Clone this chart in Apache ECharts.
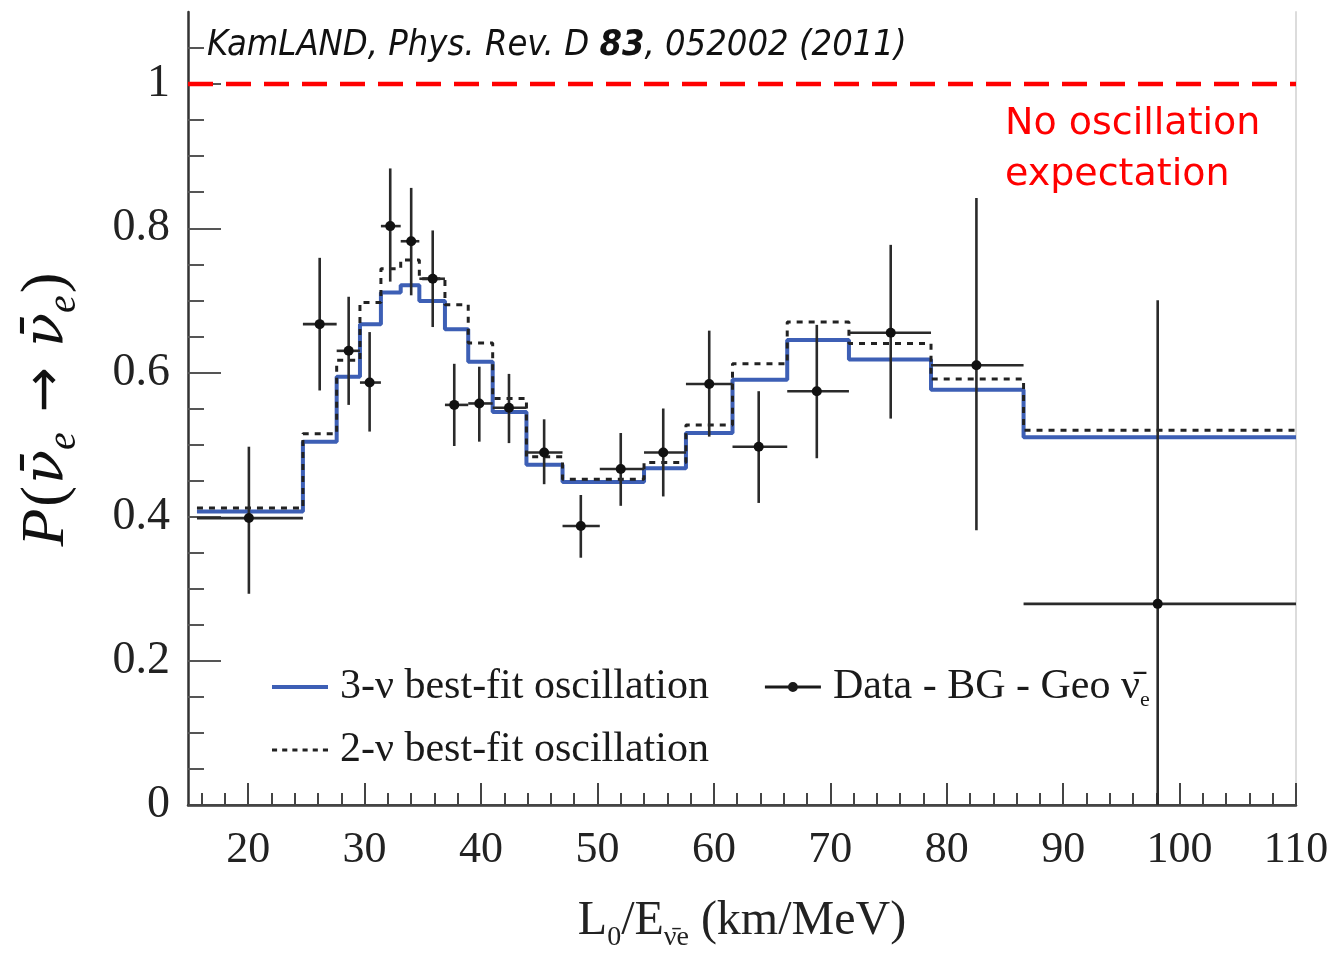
<!DOCTYPE html>
<html>
<head>
<meta charset="utf-8">
<script src="https://cdn.jsdelivr.net/npm/echarts@6/dist/echarts.min.js"></script>
<style>
  html, body { margin: 0; padding: 0; background: #fff; }
  #chart { width: 1338px; height: 957px; }
</style>
</head>
<body>
<div id="chart"></div>
<script>
// Bin edges in L0/E (km/MeV)
const binEdges = [15.6, 24.7, 27.6, 29.6, 31.4, 33.1, 34.7, 36.9, 38.9, 41.0, 43.9,
                  47.0, 50.2, 54.0, 57.6, 61.6, 66.3, 71.6, 78.65, 86.6, 110];

// Survival probability per bin: 3-flavour and 2-flavour best fits
const fit3nu = [0.407, 0.504, 0.594, 0.667, 0.711, 0.721, 0.699, 0.660, 0.615, 0.545,
                0.472, 0.448, 0.448, 0.467, 0.516, 0.590, 0.645, 0.618, 0.576, 0.510];
const fit2nu = [0.412, 0.515, 0.617, 0.697, 0.744, 0.756, 0.730, 0.694, 0.641, 0.564,
                0.483, 0.452, 0.452, 0.475, 0.527, 0.612, 0.670, 0.640, 0.591, 0.520];

// Data - BG - Geo antineutrinos: centre, ratio, lower and upper error ends
const dataX    = [20.06, 26.14, 28.63, 30.43, 32.2, 34.0, 35.85, 37.7, 39.85, 42.4,
                  45.42, 48.57, 52.0, 55.65, 59.6, 63.85, 68.84, 75.19, 82.55, 98.12];
const dataY    = [0.398, 0.667, 0.630, 0.586, 0.803, 0.782, 0.730, 0.555, 0.557, 0.551,
                  0.489, 0.387, 0.466, 0.489, 0.584, 0.497, 0.574, 0.655, 0.610, 0.279];
const dataLow  = [0.293, 0.575, 0.555, 0.518, 0.726, 0.707, 0.663, 0.498, 0.504, 0.502,
                  0.445, 0.343, 0.415, 0.428, 0.511, 0.419, 0.481, 0.536, 0.381, -0.15];
const dataHigh = [0.497, 0.759, 0.705, 0.656, 0.883, 0.856, 0.797, 0.612, 0.608, 0.598,
                  0.535, 0.430, 0.516, 0.550, 0.658, 0.574, 0.666, 0.777, 0.842, 0.700];

// No-oscillation expectation
const noOscillation = 1;

// Axis ticks and labels
const xTickLabels = [20, 30, 40, 50, 60, 70, 80, 90, 100, 110];
const yTickLabels = [0, 0.2, 0.4, 0.6, 0.8, 1];
const X_MIN = 14.83, X_MAX = 110, Y_MIN = 0, Y_MAX = 1.1;

const xMinorTicks = [];
for (let v = 16; v <= 110; v += 2) xMinorTicks.push(v);
const yMinorTicks = [];
for (let k = 1; k <= 21; k++) yMinorTicks.push(+(k * 0.05).toFixed(2));

const NAME_3NU = '3-ν best-fit oscillation';
const NAME_2NU = '2-ν best-fit oscillation';
const NAME_DATA = 'Data - BG - Geo ν̄e';

function stepPoints(vals) {
  const pts = vals.map((v, i) => [binEdges[i], v]);
  pts.push([binEdges[binEdges.length - 1], vals[vals.length - 1]]);
  return pts;
}

const errData = dataX.map((x, i) => [x, dataY[i], binEdges[i], binEdges[i + 1], dataLow[i], dataHigh[i]]);

const SERIF = '"Liberation Serif", "Times New Roman", "DejaVu Serif", serif';
const INK = '#222';
const BLUE = '#3d5fb5';

// Legend glyphs: solid bar, short dashes, bar with a dot in the middle
const ICON_SOLID = 'path://M0,0 L56,0 L56,4 L0,4 Z';
const ICON_DOTTED = 'path://M0,0 h5 v3 h-5 Z M10,0 h5 v3 h-5 Z M20,0 h5 v3 h-5 Z M30,0 h5 v3 h-5 Z M40,0 h5 v3 h-5 Z M50,0 h5 v3 h-5 Z';
const ICON_DATA = 'path://M0,3.6 L23.2,3.6 L23.2,6.4 L0,6.4 Z M32.8,3.6 L56,3.6 L56,6.4 L32.8,6.4 Z M23,5 A5,5 0 1,1 33,5 A5,5 0 1,1 23,5 Z';

const legendText = {
  fontFamily: SERIF, fontSize: 42, color: '#1a1a1a', padding: [0, 0, 0, 7],
  rich: {
    t: { fontFamily: SERIF, fontSize: 42, color: '#1a1a1a', lineHeight: 48 },
    s: { fontFamily: SERIF, fontSize: 22, color: '#1a1a1a', lineHeight: 22, verticalAlign: 'bottom' }
  }
};
const legendFormatter = name => name === NAME_DATA
  ? '{t|Data - BG - Geo ν̄}{s|e}'
  : '{t|' + name + '}';

const chart = echarts.init(document.getElementById('chart'), null, { renderer: 'canvas' });

chart.setOption({
  animation: false,
  backgroundColor: '#fff',
  grid: { left: 188, right: 42, top: 12, bottom: 152, containLabel: false },
  xAxis: [
    {
      type: 'value', min: X_MIN, max: X_MAX, position: 'bottom',
      axisLine: { show: true, lineStyle: { color: '#333', width: 2.5 } },
      axisTick: { show: true, inside: true, length: 12, customValues: xMinorTicks,
                  lineStyle: { color: '#444', width: 2 } },
      axisLabel: { customValues: xTickLabels, margin: 23, fontFamily: SERIF, fontSize: 44, color: INK },
      splitLine: { show: false },
      name: '{m|L}{sub|0}{m|/E}{sub|ν̄e}{m| (km/MeV)}',
      nameLocation: 'middle', nameGap: 85,
      nameTextStyle: {
        rich: {
          m: { fontFamily: SERIF, fontSize: 48, color: INK, lineHeight: 62 },
          sub: { fontFamily: SERIF, fontSize: 28, color: INK, lineHeight: 28, verticalAlign: 'bottom' }
        }
      }
    },
    {
      type: 'value', min: X_MIN, max: X_MAX, position: 'bottom', offset: 0,
      axisLine: { show: false },
      axisTick: { show: true, inside: true, length: 22, customValues: xTickLabels,
                  lineStyle: { color: '#444', width: 2 } },
      axisLabel: { show: false }, splitLine: { show: false }
    },
    {
      type: 'value', min: X_MIN, max: X_MAX, position: 'top',
      axisLine: { show: true, lineStyle: { color: '#444', width: 2 } },
      axisTick: { show: false }, axisLabel: { show: false }, splitLine: { show: false }
    }
  ],
  yAxis: [
    {
      type: 'value', min: Y_MIN, max: Y_MAX, position: 'left',
      axisLine: { show: true, lineStyle: { color: '#333', width: 2.5 } },
      axisTick: { show: true, inside: true, length: 16, customValues: yMinorTicks,
                  lineStyle: { color: '#555', width: 2 } },
      axisLabel: { customValues: yTickLabels, margin: 18, fontFamily: SERIF, fontSize: 46, color: INK,
                   formatter: v => String(+v.toFixed(1)) },
      splitLine: { show: false },
      name: '{it|P}{up|(}{nu|ν̄}{sub|e}{arr|→}{nu|ν̄}{sub|e}{up|)}',
      nameLocation: 'middle', nameRotate: 90, nameGap: 104,
      nameTextStyle: {
        rich: {
          it: { fontFamily: SERIF, fontSize: 62, fontStyle: 'italic', color: '#111', lineHeight: 74 },
          up: { fontFamily: SERIF, fontSize: 62, color: '#111', lineHeight: 74, padding: [0, 2, 0, 2] },
          nu: { fontFamily: '"DejaVu Serif", serif', fontSize: 56, fontStyle: 'italic', color: '#111', lineHeight: 74 },
          arr: { fontFamily: '"DejaVu Sans", sans-serif', fontSize: 54, color: '#111', lineHeight: 74, padding: [0, 20, 0, 20] },
          sub: { fontFamily: SERIF, fontSize: 40, fontStyle: 'italic', color: '#111', lineHeight: 40, verticalAlign: 'bottom' }
        }
      }
    },
    {
      type: 'value', min: Y_MIN, max: Y_MAX, position: 'left', offset: 0,
      axisLine: { show: false },
      axisTick: { show: true, inside: true, length: 33, customValues: yTickLabels.slice(1),
                  lineStyle: { color: '#555', width: 2 } },
      axisLabel: { show: false }, splitLine: { show: false }
    },
    {
      type: 'value', min: Y_MIN, max: Y_MAX, position: 'right',
      axisLine: { show: true, lineStyle: { color: '#dcdcdc', width: 2 } },
      axisTick: { show: false }, axisLabel: { show: false }, splitLine: { show: false }
    }
  ],
  legend: [
    {
      data: [{ name: NAME_3NU, icon: ICON_SOLID }, { name: NAME_DATA, icon: ICON_DATA }],
      left: 272, top: 666, padding: 0, orient: 'horizontal', itemWidth: 56, itemHeight: 14, itemGap: 56,
      selectedMode: false, formatter: legendFormatter, textStyle: legendText
    },
    {
      data: [{ name: NAME_2NU, icon: ICON_DOTTED }],
      left: 272, top: 729, padding: 0, orient: 'horizontal', itemWidth: 56, itemHeight: 14,
      selectedMode: false, formatter: legendFormatter, textStyle: legendText
    }
  ],
  graphic: [
    {
      type: 'text', left: 207, top: 28, z: 10,
      style: {
        text: '{i|KamLAND, Phys. Rev. D }{b|83}{i|, 052002 (2011)}',
        rich: {
          i: { fontFamily: '"DejaVu Sans Condensed", "DejaVu Sans", sans-serif', fontStyle: 'italic', fontSize: 36, fill: '#111' },
          b: { fontFamily: '"DejaVu Sans Condensed", "DejaVu Sans", sans-serif', fontStyle: 'italic', fontWeight: 'bold', fontSize: 36, fill: '#111' }
        }
      }
    },
    {
      type: 'text', left: 1005, top: 99, z: 10,
      style: {
        text: 'No oscillation\nexpectation',
        fontFamily: '"DejaVu Sans", sans-serif', fontSize: 38, lineHeight: 51, fill: '#ff0000'
      }
    }
  ],
  series: [
    {
      name: 'No oscillation', type: 'line', silent: true, symbol: 'none', z: 1,
      data: [[X_MIN, noOscillation], [X_MAX, noOscillation]],
      lineStyle: { color: '#ff0000', width: 4.5, type: [25, 13] }
    },
    {
      name: NAME_3NU, type: 'line', step: 'end', symbol: 'none', clip: true, z: 2,
      data: stepPoints(fit3nu),
      lineStyle: { color: BLUE, width: 4 }, itemStyle: { color: BLUE }
    },
    {
      name: NAME_2NU, type: 'line', step: 'end', symbol: 'none', clip: true, z: 3,
      data: stepPoints(fit2nu),
      lineStyle: { color: '#222', width: 3, type: [6, 6] }, itemStyle: { color: '#222' }
    },
    {
      name: NAME_DATA, type: 'custom', clip: true, z: 4,
      itemStyle: { color: '#1a1a1a' },
      encode: { x: 0, y: 1 },
      data: errData,
      renderItem: (params, api) => {
        const y = api.value(1);
        const x = api.value(0);
        const c = api.coord([x, y]);
        const l = api.coord([api.value(2), y]);
        const r = api.coord([api.value(3), y]);
        const lo = api.coord([x, api.value(4)]);
        const hi = api.coord([x, api.value(5)]);
        const st = { stroke: '#2a2a2a', lineWidth: 2.6 };
        return {
          type: 'group',
          children: [
            { type: 'line', shape: { x1: l[0], y1: l[1], x2: r[0], y2: r[1] }, style: st },
            { type: 'line', shape: { x1: lo[0], y1: lo[1], x2: hi[0], y2: hi[1] }, style: st },
            { type: 'circle', shape: { cx: c[0], cy: c[1], r: 5 }, style: { fill: '#111' } }
          ]
        };
      }
    }
  ]
});
</script>
</body>
</html>
